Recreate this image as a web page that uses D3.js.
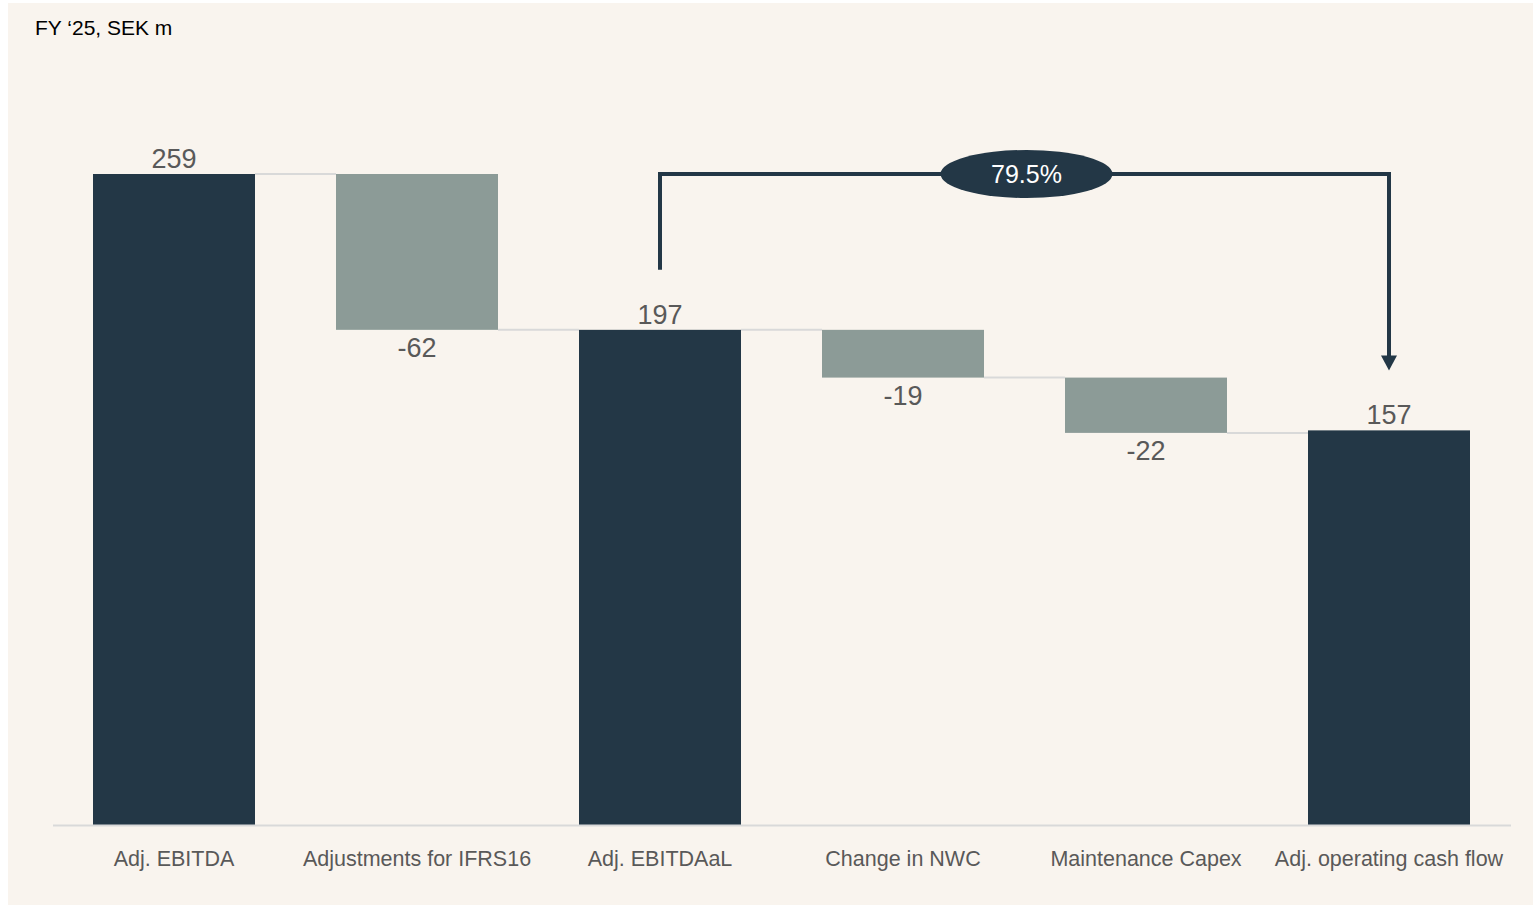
<!DOCTYPE html>
<html>
<head>
  <meta charset="utf-8">
  <title>Adj. operating cash flow bridge</title>
  <script src="https://d3js.org/d3.v7.min.js"></script>
  <style>
    body { margin: 0; background: #ffffff; }
    text { font-family: "Liberation Sans", Arial, sans-serif; }
  </style>
</head>
<body>
  <div id="chart"></div>
  <script>
    // data
    var categories = ["Adj. EBITDA", "Adjustments for IFRS16", "Adj. EBITDAaL", "Change in NWC", "Maintenance Capex", "Adj. operating cash flow"];
    var values = [259, -62, 197, -19, -22, 157];
    var isTotal = [true, false, true, false, false, true];
    var conversionLabel = "79.5%";

    var W = 1537, H = 906;
    var dark = "#233746", grey = "#8c9b97", textGrey = "#595959";

    var svg = d3.select("#chart").append("svg")
      .attr("width", W)
      .attr("height", H);

    // cream panel
    svg.append("rect")
      .attr("x", 8).attr("y", 3)
      .attr("width", 1525).attr("height", 902)
      .attr("fill", "#f9f4ee");

    svg.append("text")
      .attr("x", 35).attr("y", 35)
      .attr("font-size", 21)
      .attr("fill", "#000")
      .text("FY \u201825, SEK m");

    // build waterfall steps
    var steps = [];
    var running = 0;
    categories.forEach(function (c, i) {
      var v = values[i];
      if (isTotal[i]) {
        steps.push({ cat: c, v: v, y0: 0, y1: v, total: true });
        running = v;
      } else {
        steps.push({ cat: c, v: v, y0: running + v, y1: running, total: false });
        running = running + v;
      }
    });

    var x = d3.scaleBand()
      .domain(categories)
      .range([52.5, 1510.5])
      .paddingInner(1 / 3)
      .paddingOuter(1 / 6);

    var y = d3.scaleLinear()
      .domain([0, 259])
      .range([825, 174]);

    // connector lines
    svg.selectAll("line.conn")
      .data(steps.slice(0, -1))
      .enter().append("line")
      .attr("class", "conn")
      .attr("x1", function (d) { return x(d.cat) + x.bandwidth(); })
      .attr("x2", function (d, i) { return x(categories[i + 1]); })
      .attr("y1", function (d) { return d.total ? y(d.y1) : y(d.y0); })
      .attr("y2", function (d) { return d.total ? y(d.y1) : y(d.y0); })
      .attr("stroke", "#d9d9d9")
      .attr("stroke-width", 2);

    // bars
    svg.selectAll("rect.bar")
      .data(steps)
      .enter().append("rect")
      .attr("class", "bar")
      .attr("x", function (d) { return x(d.cat); })
      .attr("y", function (d) { return y(Math.max(d.y0, d.y1)); })
      .attr("width", x.bandwidth())
      .attr("height", function (d) { return Math.abs(y(d.y0) - y(d.y1)); })
      .attr("fill", function (d) { return d.total ? dark : grey; });

    // baseline
    var xAxis = svg.append("g")
      .attr("transform", "translate(0," + y(0) + ")")
      .call(d3.axisBottom(x).tickSize(0).tickPadding(26));
    xAxis.select(".domain").attr("stroke", "#d9d9d9").attr("stroke-width", 2);
    xAxis.selectAll("text")
      .attr("font-size", 21.5)
      .attr("fill", textGrey)
      .style("font-family", "'Liberation Sans', Arial, sans-serif");

    // value labels
    svg.selectAll("text.val")
      .data(steps)
      .enter().append("text")
      .attr("class", "val")
      .attr("x", function (d) { return x(d.cat) + x.bandwidth() / 2; })
      .attr("y", function (d) { return d.total ? y(d.y1) - 6 : y(d.y0) + 27; })
      .attr("text-anchor", "middle")
      .attr("font-size", 27)
      .attr("fill", textGrey)
      .text(function (d) { return d.v; });

    // conversion bracket
    var xa = x(categories[2]) + x.bandwidth() / 2;
    var xb = x(categories[5]) + x.bandwidth() / 2;
    var bracketTop = y(values[0]);
    var gap = 60;
    svg.append("path")
      .attr("d", "M" + xa + "," + (y(values[2]) - gap) + "V" + bracketTop + "H" + xb + "V" + (y(values[5]) - gap - 14))
      .attr("fill", "none")
      .attr("stroke", dark)
      .attr("stroke-width", 4);
    var tipY = y(values[5]) - gap;
    svg.append("path")
      .attr("d", "M" + (xb - 8) + "," + (tipY - 15) + "L" + (xb + 8) + "," + (tipY - 15) + "L" + xb + "," + tipY + "Z")
      .attr("fill", dark);

    var cx = (xa + xb) / 2 + 2;
    svg.append("ellipse")
      .attr("cx", cx).attr("cy", bracketTop)
      .attr("rx", 86).attr("ry", 24)
      .attr("fill", dark);
    svg.append("text")
      .attr("x", cx).attr("y", bracketTop + 9)
      .attr("text-anchor", "middle")
      .attr("font-size", 25)
      .attr("fill", "#ffffff")
      .text(conversionLabel);
  </script>
</body>
</html>
